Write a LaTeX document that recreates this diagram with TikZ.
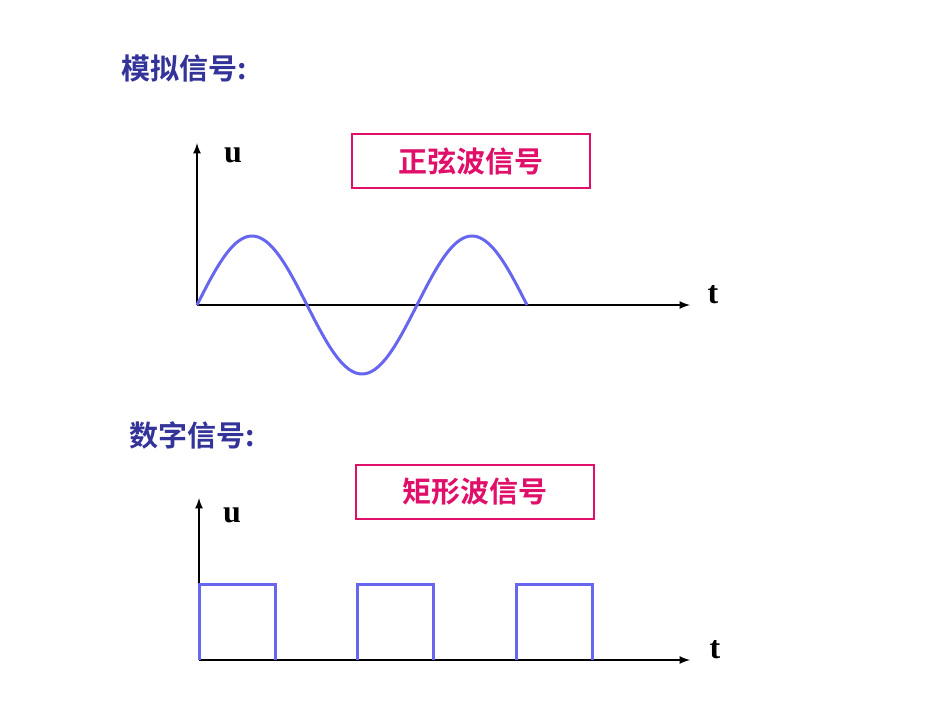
\documentclass[tikz,border=0pt]{standalone}
\usepackage{fontspec}
\setmainfont{Liberation Serif}
\newfontfamily\cjk{Noto Sans CJK SC}[BoldFont={Noto Sans CJK SC Bold}]
\definecolor{navy}{HTML}{333399}
\definecolor{mag}{HTML}{E0106A}
\definecolor{wave}{HTML}{6666EE}
\begin{document}
\begin{tikzpicture}[x=1pt,y=-1pt,
  title/.style={anchor=west,font=\cjk\bfseries\fontsize{29}{30}\selectfont,text=navy},
  lab/.style={draw=mag,line width=2.5pt,minimum width=238pt,minimum height=54pt,font=\cjk\bfseries\fontsize{29}{30}\selectfont,text=mag,inner sep=0},
  axis/.style={line width=2.5pt,-latex},
  var/.style={font=\bfseries\fontsize{32}{32}\selectfont},
  sig/.style={wave,line width=3pt}]
\useasboundingbox (0,0) rectangle (950,713);
\node[title] (t1) at (118,68) {模拟信号:};
\node[title] (t2) at (126,435) {数字信号:};
\node[lab] (b1) at (471,161) {正弦波信号};
\node[lab] (b2) at (475,492) {矩形波信号};
\coordinate (o1) at (197,305);
\coordinate (y1) at (197,143);
\coordinate (x1) at (690,305);
\draw[axis] (o1) -- (y1);
\draw[axis] (o1) -- (x1);
\node[var] (u1) at (233,155) {u};
\node[var] (tt1) at (713,295) {t};
\draw[sig,domain=0:330,samples=120,smooth] plot ({197+\x},{305-69*sin(\x*1.636364)});
\coordinate (o2) at (199,660);
\coordinate (y2) at (199,498);
\coordinate (x2) at (690,660);
\draw[axis] (o2) -- (y2);
\draw[axis] (o2) -- (x2);
\node[var] (u2) at (232,515) {u};
\node[var] (tt2) at (715,650) {t};
\draw[sig] (199,660) -- (199,584) -- (275,584) -- (275,660);
\draw[sig] (357,660) -- (357,584) -- (433,584) -- (433,660);
\draw[sig] (516,660) -- (516,584) -- (592,584) -- (592,660);
\end{tikzpicture}
\end{document}
